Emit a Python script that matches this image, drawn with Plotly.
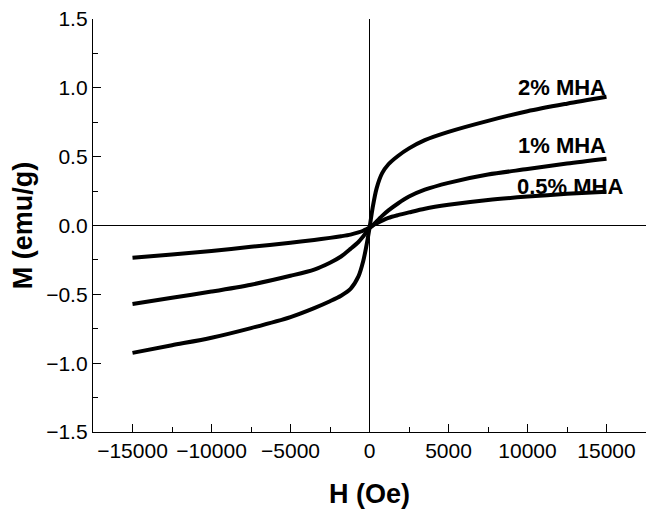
import plotly.graph_objects as go

# Field H (Oe)
H = [-15000, -12500, -10000, -7500, -5000, -3500, -2500, -1800, -1200, -700,
     -400, -200, 0, 200, 450, 800, 1200, 1800, 2500, 3500, 5000, 7500, 10000,
     12500, 15000]

# Magnetization M (emu/g)
M_2 = [-0.925, -0.87, -0.815, -0.745, -0.665, -0.60, -0.55, -0.51, -0.46, -0.37,
       -0.26, -0.15, -0.02, 0.13, 0.27, 0.38, 0.445, 0.505, 0.56, 0.62, 0.68, 0.76,
       0.83, 0.885, 0.935]
M_1 = [-0.57, -0.525, -0.48, -0.43, -0.365, -0.32, -0.27, -0.225, -0.17, -0.12,
       -0.08, -0.05, -0.02, 0.0, 0.03, 0.07, 0.11, 0.16, 0.21, 0.26, 0.31, 0.37,
       0.41, 0.45, 0.485]
M_05 = [-0.235, -0.21, -0.185, -0.155, -0.125, -0.105, -0.09, -0.078, -0.066, -0.05,
        -0.038, -0.027, -0.015, 0.0, 0.015, 0.035, 0.055, 0.075, 0.095, 0.122, 0.15,
        0.185, 0.21, 0.23, 0.245]

labels = ["2% MHA", "1% MHA", "0.5% MHA"]
label_x = [12200, 12200, 12700]
label_y = [1.004, 0.583, 0.286]

x_ticks = [-15000, -10000, -5000, 0, 5000, 10000, 15000]
y_ticks = [-1.5, -1.0, -0.5, 0.0, 0.5, 1.0, 1.5]

FONT = "Liberation Sans, Arial, sans-serif"

fig = go.Figure()
for m in (M_2, M_1, M_05):
    fig.add_trace(go.Scatter(x=H, y=m, mode="lines",
                             line=dict(color="black", width=4, shape="spline", smoothing=0.8),
                             showlegend=False, hoverinfo="skip"))

for t, x, y in zip(labels, label_x, label_y):
    fig.add_annotation(x=x, y=y, text="<b>%s</b>" % t, showarrow=False,
                       xanchor="center", yanchor="middle",
                       font=dict(family=FONT, size=22, color="black"))

axis_common = dict(showline=True, linecolor="black", linewidth=1.3, mirror=False,
                   showgrid=False, zeroline=True, zerolinecolor="black", zerolinewidth=1,
                   ticks="inside", ticklen=8, tickwidth=1.3, tickcolor="black",
                   ticklabeloverflow="allow",
                   tickfont=dict(family=FONT, size=21, color="black"))

fig.update_xaxes(range=[-17500, 17500], tickvals=x_ticks,
                 ticktext=[("\u2212%d" % -v) if v < 0 else "%d" % v for v in x_ticks],
                 minor=dict(ticks="inside", ticklen=5, tickwidth=1.3, tickcolor="black",
                            tickvals=list(range(-17500, 17501, 2500))),
                 title=dict(text="<b>H (Oe)</b>", standoff=22,
                            font=dict(family=FONT, size=27, color="black")),
                 **axis_common)
fig.update_yaxes(range=[-1.5, 1.5], tickvals=y_ticks,
                 ticktext=[("\u2212%.1f" % -v) if v < 0 else "%.1f" % v for v in y_ticks],
                 minor=dict(ticks="inside", ticklen=5, tickwidth=1.3, tickcolor="black",
                            tickvals=[-1.25, -0.75, -0.25, 0.25, 0.75, 1.25]),
                 title=dict(text="<b>M (emu/g)</b>", standoff=10,
                            font=dict(family=FONT, size=27, color="black")),
                 **axis_common)

fig.update_layout(width=659, height=519,
                  margin=dict(l=85, r=21, t=11, b=95, autoexpand=False),
                  plot_bgcolor="white", paper_bgcolor="white",
                  font=dict(family=FONT, color="black"))

fig.write_html("out.html")
